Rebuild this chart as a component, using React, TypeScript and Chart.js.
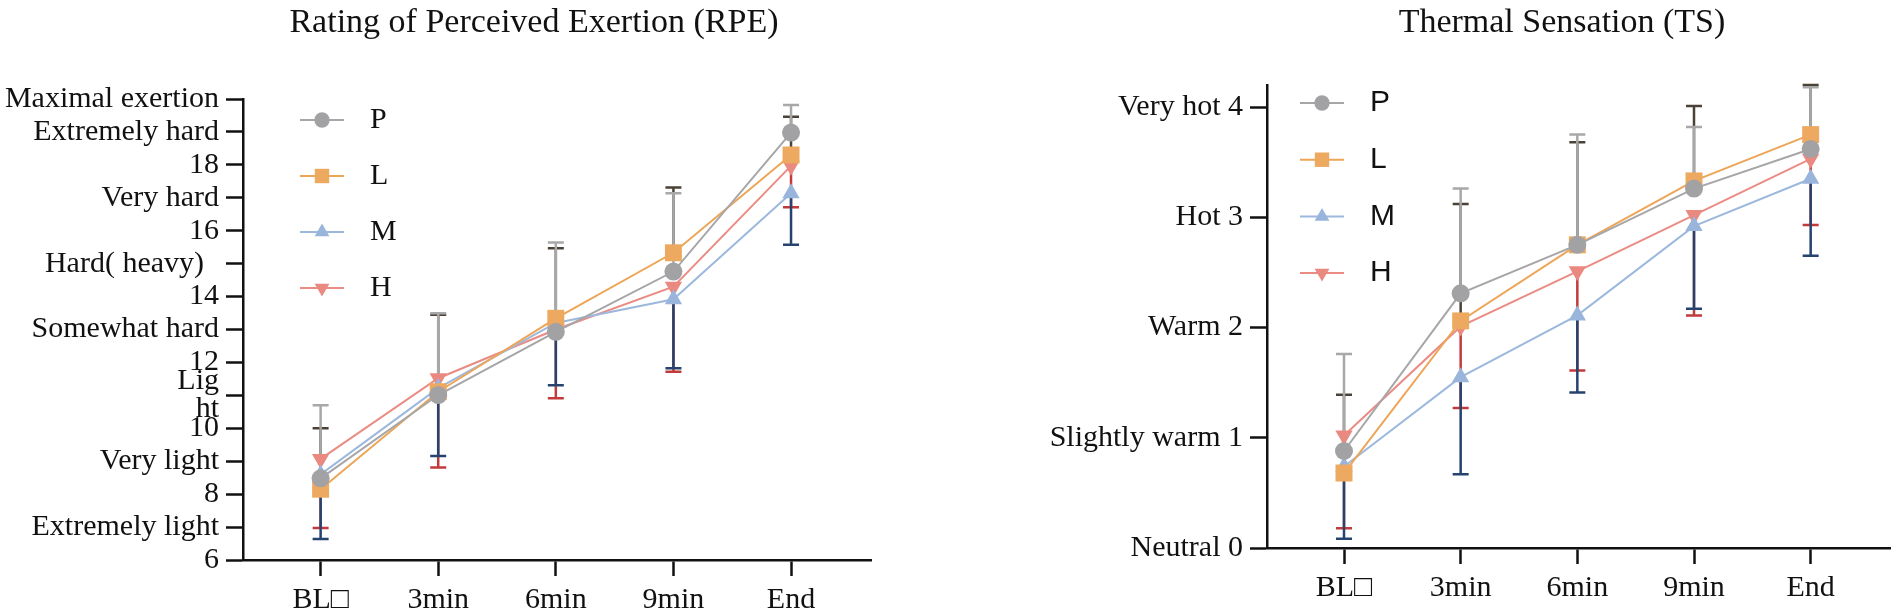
import React, { useEffect, useRef } from 'react';
import { Chart, registerables } from 'chart.js';
import { drawPoint } from 'chart.js/helpers';

Chart.register(...registerables);

// ---------- data ----------
const categories = ['BL□', '3min', '6min', '9min', 'End'];
const seriesNames = ['P', 'L', 'M', 'H'];

// RPE means
const rpeP = [8.48, 11.01, 12.93, 14.76, 18.98];
const rpeL = [8.15, 11.11, 13.34, 15.33, 18.3];
const rpeM = [8.6, 11.22, 13.2, 13.92, 17.14];
const rpeH = [9.07, 11.52, 13.0, 14.3, 17.97];
// RPE error bars (P, L drawn upward; M, H drawn downward)
const rpeErrP = [2.22, 2.48, 2.71, 2.38, 0.84];
const rpeErrL = [1.85, 2.34, 2.13, 1.98, 1.16];
const rpeErrM = [1.96, 2.06, 1.89, 2.1, 1.57];
const rpeErrH = [2.1, 2.71, 2.09, 2.58, 1.26];

// TS means
const tsP = [0.88, 2.31, 2.75, 3.26, 3.62];
const tsL = [0.68, 2.06, 2.75, 3.33, 3.75];
const tsM = [0.74, 1.55, 2.11, 2.92, 3.35];
const tsH = [1.02, 2.01, 2.51, 3.02, 3.53];
const tsErrP = [0.88, 0.95, 1.0, 0.56, 0.56];
const tsErrL = [0.71, 1.06, 0.93, 0.68, 0.45];
const tsErrM = [0.655, 0.88, 0.7, 0.75, 0.7];
const tsErrH = [0.84, 0.74, 0.9, 0.91, 0.6];

// axis ticks
const rpeTickValues = [6, 7, 8, 9, 10, 11, 12, 13, 14, 15, 16, 17, 18, 19, 20];
const rpeTickLabels: (string | string[])[] = [
  '6', 'Extremely light', '8', 'Very light', '10', ['Lig', 'ht'], '12',
  'Somewhat hard', '14', 'Hard( heavy)\u2002', '16', 'Very hard', '18',
  'Extremely hard', 'Maximal exertion',
];
const tsTickValues = [0, 1, 2, 3, 4];
const tsTickLabels = ['Neutral 0', 'Slightly warm 1', 'Warm 2', 'Hot 3', 'Very hot 4'];

const titleRPE = 'Rating of Perceived Exertion (RPE)';
const titleTS = 'Thermal Sensation (TS)';

// ---------- styles ----------
const SERIF = '"Liberation Serif", "Times New Roman", Times, serif';
const SANS = '"Liberation Sans", Arial, Helvetica, sans-serif';

const seriesStyle = [
  { line: '#a6a6a9', point: '#a2a2a5', err: '#a8a8a8', pointStyle: 'circle', rotation: 0, radius: 9, dir: 1 },
  { line: '#eda557', point: '#eca95f', err: '#4a4237', pointStyle: 'rect', rotation: 0, radius: 12, dir: 1 },
  { line: '#9db8dd', point: '#9ab5dc', err: '#26436f', pointStyle: 'triangle', rotation: 0, radius: 10, dir: -1 },
  { line: '#eb8c84', point: '#e9897f', err: '#c23b3b', pointStyle: 'triangle', rotation: 180, radius: 10, dir: -1 },
];

function makeDatasets(values: number[][], errors: number[][]) {
  return values.map((vals, i) => {
    const s = seriesStyle[i];
    return {
      label: seriesNames[i],
      data: vals.map((v, j) => ({ x: j, y: v })),
      errors: errors[i],
      errorDir: s.dir,
      errorColor: s.err,
      borderColor: s.line,
      backgroundColor: s.point,
      borderWidth: 2,
      pointStyle: s.pointStyle,
      pointRotation: s.rotation,
      pointRadius: s.radius,
      pointBackgroundColor: s.point,
      pointBorderColor: s.point,
      pointBorderWidth: 0,
      tension: 0,
      clip: false,
    };
  });
}

const errorBarPlugin = {
  id: 'errorBars',
  beforeDatasetsDraw(chart: any) {
    const { ctx } = chart;
    const xs = chart.scales.x;
    const ys = chart.scales.y;
    const sets = chart.data.datasets;
    for (let i = sets.length - 1; i >= 0; i--) {
      const ds = sets[i];
      ctx.save();
      ctx.strokeStyle = ds.errorColor;
      ctx.lineWidth = 2.5;
      ds.data.forEach((p: any, j: number) => {
        const x = xs.getPixelForValue(p.x);
        const y0 = ys.getPixelForValue(p.y);
        const y1 = ys.getPixelForValue(p.y + ds.errorDir * ds.errors[j]);
        ctx.beginPath();
        ctx.moveTo(x, y0);
        ctx.lineTo(x, y1);
        ctx.moveTo(x - 8, y1);
        ctx.lineTo(x + 8, y1);
        ctx.stroke();
      });
      ctx.restore();
    }
  },
};

const insideLegendPlugin = {
  id: 'insideLegend',
  afterDatasetsDraw(chart: any, _args: any, opts: any) {
    const { ctx, chartArea } = chart;
    chart.data.datasets.forEach((ds: any, i: number) => {
      const cx = chartArea.left + opts.dx;
      const cy = chartArea.top + opts.dy + i * opts.gap;
      ctx.save();
      ctx.strokeStyle = ds.borderColor;
      ctx.lineWidth = 2;
      ctx.beginPath();
      ctx.moveTo(cx - 22, cy);
      ctx.lineTo(cx + 22, cy);
      ctx.stroke();
      ctx.fillStyle = ds.pointBackgroundColor;
      drawPoint(ctx, { pointStyle: ds.pointStyle, rotation: ds.pointRotation, radius: ds.pointRadius * 0.85, borderWidth: 0 }, cx, cy);
      ctx.fillStyle = '#111';
      ctx.font = opts.font;
      ctx.textBaseline = 'middle';
      ctx.textAlign = 'left';
      ctx.fillText(ds.label, cx + 48, cy);
      ctx.restore();
    });
  },
};

interface ChartCfg {
  values: number[][];
  errors: number[][];
  yMin: number;
  yMax: number;
  yTicks: number[];
  yLabels: (string | string[])[];
  yWidth: number;
  xHeight: number;
  padTop: number;
  padRight: number;
  legend: { dx: number; dy: number; gap: number; font: string };
}

function buildConfig(c: ChartCfg): any {
  return {
    type: 'line',
    data: { datasets: makeDatasets(c.values, c.errors) },
    plugins: [errorBarPlugin, insideLegendPlugin],
    options: {
      animation: false,
      responsive: false,
      events: [],
      layout: { padding: { top: c.padTop, right: c.padRight, bottom: 0, left: 0 } },
      plugins: {
        legend: { display: false },
        title: { display: false },
        tooltip: { enabled: false },
        insideLegend: c.legend,
      },
      scales: {
        x: {
          type: 'linear',
          min: -0.66,
          max: 4.68,
          afterBuildTicks: (scale: any) => {
            scale.ticks = categories.map((_, i) => ({ value: i }));
          },
          afterFit: (scale: any) => {
            scale.height = c.xHeight;
          },
          ticks: {
            callback: (v: number) => categories[v],
            color: '#111',
            font: { family: SERIF, size: 30, lineHeight: 1.2 },
            padding: 6,
            maxRotation: 0,
            autoSkip: false,
          },
          grid: {
            drawOnChartArea: false,
            drawTicks: true,
            tickLength: 16,
            tickColor: '#111',
            tickWidth: 2.5,
            color: '#111',
          },
          border: { display: true, color: '#111', width: 2.5 },
        },
        y: {
          type: 'linear',
          min: c.yMin,
          max: c.yMax,
          afterBuildTicks: (scale: any) => {
            scale.ticks = c.yTicks.map((v) => ({ value: v }));
          },
          afterFit: (scale: any) => {
            scale.width = c.yWidth;
          },
          ticks: {
            callback: (_v: number, idx: number) => c.yLabels[idx],
            color: '#111',
            font: { family: SERIF, size: 30, lineHeight: 0.95 },
            padding: 7,
            autoSkip: false,
          },
          grid: {
            drawOnChartArea: false,
            drawTicks: true,
            tickLength: 17,
            tickColor: '#111',
            tickWidth: 2.5,
            color: '#111',
          },
          border: { display: true, color: '#111', width: 2.5 },
        },
      },
    },
  };
}

function ChartCanvas(props: { cfg: ChartCfg; left: number; width: number }) {
  const ref = useRef<HTMLCanvasElement | null>(null);
  useEffect(() => {
    if (!ref.current) return;
    const chart = new Chart(ref.current, buildConfig(props.cfg));
    return () => chart.destroy();
  }, []);
  return (
    <canvas
      ref={ref}
      width={props.width}
      height={616}
      style={{ position: 'absolute', left: props.left, top: 0, width: props.width, height: 616 }}
    />
  );
}

const rpeCfg: ChartCfg = {
  values: [rpeP, rpeL, rpeM, rpeH],
  errors: [rpeErrP, rpeErrL, rpeErrM, rpeErrH],
  yMin: 6,
  yMax: 20,
  yTicks: rpeTickValues,
  yLabels: rpeTickLabels,
  yWidth: 243,
  xHeight: 56,
  padTop: 99,
  padRight: 29,
  legend: { dx: 79, dy: 21, gap: 56, font: `30px ${SERIF}` },
};

const tsCfg: ChartCfg = {
  values: [tsP, tsL, tsM, tsH],
  errors: [tsErrP, tsErrL, tsErrM, tsErrH],
  yMin: 0,
  yMax: 4.2,
  yTicks: tsTickValues,
  yLabels: tsTickLabels,
  yWidth: 307,
  xHeight: 68,
  padTop: 85,
  padRight: 5,
  legend: { dx: 55, dy: 18, gap: 56.7, font: `30px ${SANS}` },
};

const titleStyle = (center: number): React.CSSProperties => ({
  position: 'absolute',
  left: center - 400,
  width: 800,
  top: 4,
  textAlign: 'center',
  fontFamily: SERIF,
  fontSize: 34,
  lineHeight: '34px',
  color: '#111',
  whiteSpace: 'nowrap',
});

export default function App() {
  return (
    <div style={{ position: 'absolute', left: 0, top: 0, width: 1902, height: 616, background: '#fff', overflow: 'hidden' }}>
      <ChartCanvas cfg={rpeCfg} left={0} width={900} />
      <ChartCanvas cfg={tsCfg} left={960} width={942} />
      <div style={titleStyle(534)}>{titleRPE}</div>
      <div style={titleStyle(1562)}>{titleTS}</div>
    </div>
  );
}
